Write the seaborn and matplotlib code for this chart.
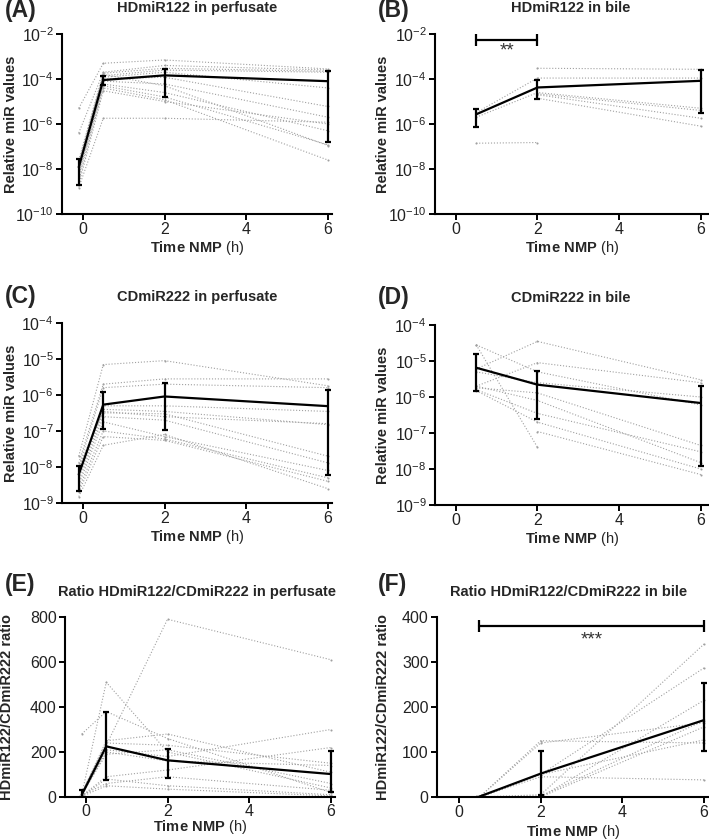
import numpy as np
import pandas as pd
import matplotlib
matplotlib.use('Agg')
import matplotlib.pyplot as plt
import matplotlib.ticker as mticker
import seaborn as sns

nan = np.nan

# ---------- data ----------
# (A) HDmiR122 in perfusate
a_time = [-0.1, 0.5, 2, 6]
a_lines = [
    [5e-6, 5e-4, 7e-4, 2.8e-4],
    [4e-7, 2e-4, 4e-4, 2.5e-4],
    [2.5e-8, 1.8e-4, 3e-4, 2.2e-4],
    [1.6e-8, 1.4e-4, 2.5e-4, 2e-4],
    [1.3e-8, 1.2e-4, 2e-4, 4e-5],
    [1e-8, 1e-4, 1.2e-4, 6e-6],
    [8e-9, 8e-5, 6e-5, 2e-6],
    [6e-9, 6e-5, 2.5e-5, 5e-7],
    [5e-9, 5e-5, 1.6e-5, 1.2e-7],
    [3e-9, 4e-5, 1.2e-5, 2.5e-8],
    [2e-9, 3e-5, 1e-5, 1e-6],
    [1.5e-9, 1.8e-6, 1.8e-6, 1.2e-6],
    [2e-8, 1.6e-4, 5e-5, 1.1e-7],
]
a_mean = [1.2e-8, 9e-5, 1.45e-4, 8e-5]
a_upper = [2.8e-8, 1.35e-4, 2.8e-4, 2.3e-4]
a_lower = [2e-9, 5.3e-5, 1.6e-5, 1.6e-7]

# (B) HDmiR122 in bile
b_time = [0.5, 2, 6]
b_lines = [
    [nan, 3e-4, 2.7e-4],
    [3.2e-6, 1.1e-4, 1.1e-4],
    [2e-6, 2.5e-5, 5e-6],
    [nan, 2.2e-5, 4e-6],
    [nan, 2e-5, 1.8e-6],
    [nan, 1.4e-5, 8e-7],
    [1.4e-7, 1.5e-7, nan],
]
b_mean = [2.7e-6, 4.2e-5, 8.3e-5]
b_upper = [4.6e-6, 9e-5, 2.4e-4]
b_lower = [7e-7, 1.35e-5, 3.2e-6]

# (C) CDmiR222 in perfusate
c_time = [-0.1, 0.5, 2, 6]
c_lines = [
    [2e-8, 7e-6, 9e-6, 1.8e-6],
    [1.3e-8, 2e-6, 2.8e-6, 2.8e-6],
    [1e-8, 1.6e-6, 2e-6, 1.6e-6],
    [8e-9, 5e-7, 5e-7, 3.5e-7],
    [6e-9, 4e-7, 3.5e-7, 1.5e-7],
    [5e-9, 3.2e-7, 3e-7, 2e-8],
    [4e-9, 2.5e-7, 2e-7, 1.3e-8],
    [3.2e-9, 1.8e-7, 7e-8, 8e-9],
    [2.5e-9, 1e-7, 6e-8, 5e-9],
    [2e-9, 7e-8, 5.5e-8, 4e-9],
    [1.5e-9, 4e-8, 8e-8, 2.5e-9],
    [1e-8, 3.5e-7, 2.5e-7, 1.6e-7],
]
c_mean = [6.2e-9, 5.4e-7, 9.1e-7, 4.9e-7]
c_upper = [1.05e-8, 1.2e-6, 2.2e-6, 1.4e-6]
c_lower = [2.1e-9, 1.15e-7, 1.05e-7, 6e-9]

# (D) CDmiR222 in bile
d_time = [0.5, 2, 6]
d_lines = [
    [2.8e-5, 5e-6, 6e-7],
    [6e-6, 3.5e-5, 3e-6],
    [2e-6, 9e-6, 2.5e-6],
    [1.8e-6, 1.3e-6, 4.5e-8],
    [1.6e-6, 3.5e-7, 3e-8],
    [2e-6, 8e-7, 1.5e-8],
    [2.8e-5, 4e-8, nan],
    [1.5e-6, 2e-7, 1e-8],
    [nan, 1.1e-7, 7e-9],
    [5e-6, 2.5e-6, 1e-6],
]
d_mean = [6.5e-6, 2.2e-6, 6.8e-7]
d_upper = [1.6e-5, 5.2e-6, 2e-6]
d_lower = [1.5e-6, 2.5e-7, 1.2e-8]

# (E) ratio in perfusate
e_time = [-0.1, 0.5, 2, 6]
e_lines = [
    [5, 230, 790, 610],
    [10, 510, 200, 40],
    [280, 380, 260, 20],
    [15, 250, 280, 110],
    [20, 240, 230, 150],
    [5, 210, 180, 300],
    [10, 200, 160, 140],
    [5, 90, 120, 220],
    [3, 80, 50, 10],
    [8, 60, 90, 30],
    [2, 50, 35, 5],
    [12, 190, 210, 60],
]
e_mean = [10, 225, 163, 102]
e_upper = [30, 378, 215, 203]
e_lower = [0, 74, 83, 22]

# (F) ratio in bile
f_time = [0.5, 2, 6]
f_lines = [
    [0, 5, 340],
    [0, 50, 287],
    [0, 0, 215],
    [0, 125, 120],
    [0, 120, 165],
    [0, 45, 38],
    [0, 2, 170],
    [0, 50, 127],
    [0, 0, 156],
]
f_mean = [1, 52, 171]
f_upper = [1, 102, 253]
f_lower = [1, 5, 102]

# significance bars: x0, x1, bar height, text top, text
b_sig = (0.5, 2, 5.4e-3, 4e-3, '**')
f_sig = (0.5, 6, 380, 368, '***')

# ---------- style ----------
sns.set_style('ticks')
plt.rcParams['font.family'] = ['Liberation Sans', 'DejaVu Sans']
plt.rcParams['mathtext.fontset'] = 'custom'
plt.rcParams['mathtext.rm'] = 'Liberation Sans'
plt.rcParams['mathtext.bf'] = 'Liberation Sans:bold'

fig = plt.figure(figsize=(7.09, 8.4), dpi=100)
W, H = 709, 840


def px_axes(left, top, right, bottom):
    return fig.add_axes([left / W, 1 - bottom / H, (right - left) / W, (bottom - top) / H])


def long_df(time, lines):
    rows = []
    for i, vals in enumerate(lines):
        for t, v in zip(time, vals):
            if not np.isnan(v):
                rows.append({'id': i, 'time': t, 'value': v})
    return pd.DataFrame(rows)


def log_fmt(v, pos):
    return r'10$^{\mathregular{%d}}$' % int(round(np.log10(v)))


def panel(ax, time, lines, mean, upper, lower, xlim, log, ylim, yticks, ylabel):
    if log:
        ax.set_yscale('log')
    sns.lineplot(data=long_df(time, lines), x='time', y='value', units='id',
                 estimator=None, ax=ax, color='#a0a0a0', lw=0.8, ls=':',
                 marker='.', markersize=3, markeredgewidth=0, legend=False)
    mean = np.array(mean, float)
    yerr = [mean - np.array(lower), np.array(upper) - mean]
    ax.errorbar(time, mean, yerr=yerr, color='black', lw=1.6, elinewidth=1.6,
                capsize=2.5, capthick=1.6, zorder=5)
    ax.set_xlim(*xlim)
    ax.set_ylim(*ylim)
    ax.set_xticks([0, 2, 4, 6])
    ax.set_yticks(yticks)
    if log:
        ax.yaxis.set_major_formatter(mticker.FuncFormatter(log_fmt))
        ax.yaxis.set_minor_locator(mticker.NullLocator())
    sns.despine(ax=ax)
    for s in ['left', 'bottom']:
        ax.spines[s].set_linewidth(1.5)
        ax.spines[s].set_color('black')
    ax.tick_params(axis='both', labelsize=11.5, width=1.4, length=4.5,
                   color='black', labelcolor='#222222', pad=1.5)
    ax.set_ylabel(ylabel, fontsize=10.5, fontweight='bold')
    ax.set_xlabel(r'$\mathbf{Time\ NMP}$ (h)', fontsize=10.5)


def sig_bar(ax, sig):
    x0, x1, y, ytxt, txt = sig
    ax.plot([x0, x1], [y, y], color='black', lw=1.6, marker='|',
            markersize=8, markeredgewidth=1.6, clip_on=False)
    ax.text((x0 + x1) / 2, ytxt, txt, ha='center', va='top',
            fontsize=13.5, color='#333333')


log_ylab = 'Relative miR values'
ratio_ylab = 'HDmiR122/CDmiR222 ratio'

axA = px_axes(62, 34, 332, 214)
panel(axA, a_time, a_lines, a_mean, a_upper, a_lower, (-0.51, 6.1), True,
      (1e-10, 1e-2), [1e-10, 1e-8, 1e-6, 1e-4, 1e-2], log_ylab)
axB = px_axes(435, 34, 709, 214)
panel(axB, b_time, b_lines, b_mean, b_upper, b_lower, (-0.51, 6.2), True,
      (1e-10, 1e-2), [1e-10, 1e-8, 1e-6, 1e-4, 1e-2], log_ylab)
sig_bar(axB, b_sig)
axC = px_axes(62, 323, 332, 503)
panel(axC, c_time, c_lines, c_mean, c_upper, c_lower, (-0.51, 6.1), True,
      (1e-9, 1e-4), [1e-9, 1e-8, 1e-7, 1e-6, 1e-5, 1e-4], log_ylab)
axD = px_axes(435, 325, 709, 505)
panel(axD, d_time, d_lines, d_mean, d_upper, d_lower, (-0.51, 6.2), True,
      (1e-9, 1e-4), [1e-9, 1e-8, 1e-7, 1e-6, 1e-5, 1e-4], log_ylab)
axE = px_axes(65, 617, 335, 797)
panel(axE, e_time, e_lines, e_mean, e_upper, e_lower, (-0.51, 6.1), False,
      (0, 800), [0, 200, 400, 600, 800], ratio_ylab)
axF = px_axes(437, 617, 709, 797)
panel(axF, f_time, f_lines, f_mean, f_upper, f_lower, (-0.54, 6.12), False,
      (0, 400), [0, 100, 200, 300, 400], ratio_ylab)
sig_bar(axF, f_sig)
axE.tick_params(axis='x', pad=0.5)

# label positions (axes fraction)
for ax, ylx, xly in [(axA, -0.19, -0.19), (axB, -0.19, -0.19), (axC, -0.19, -0.19),
                     (axD, -0.19, -0.19), (axE, -0.215, -0.165), (axF, -0.2, -0.195)]:
    ax.yaxis.set_label_coords(ylx, 0.5)
    ax.yaxis.label.set_va('center')
    ax.xaxis.set_label_coords(0.5, xly)
    ax.xaxis.label.set_va('center')

titles = [
    ('(A)', 5, 11, 'HDmiR122 in perfusate', 197, 8),
    ('(B)', 378, 11, 'HDmiR122 in bile', 571, 8),
    ('(C)', 5, 296, 'CDmiR222 in perfusate', 197, 297),
    ('(D)', 378, 297, 'CDmiR222 in bile', 571, 298),
    ('(E)', 5, 584, 'Ratio HDmiR122/CDmiR222 in perfusate', 197, 592),
    ('(F)', 378, 585, 'Ratio HDmiR122/CDmiR222 in bile', 569, 592),
]
for letter, lx, ly, title, tx, ty in titles:
    fig.text(lx / W, 1 - ly / H, letter, fontsize=16.5, fontweight='bold',
             ha='left', va='center')
    fig.text(tx / W, 1 - ty / H, title, fontsize=10.5, fontweight='bold',
             ha='center', va='center')

fig.savefig('out.png', dpi=100)
